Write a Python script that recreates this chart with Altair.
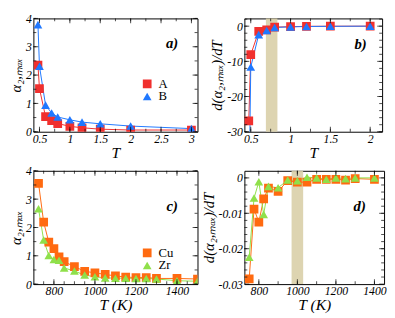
import altair as alt
import pandas as pd

# ---------------- data ----------------
T_ab = [0.475, 0.5, 0.6, 0.7, 0.8, 1.0, 1.2, 1.5, 2.0, 3.0]
alpha_A = [2.35, 1.52, 0.53, 0.39, 0.29, 0.19, 0.14, 0.09, 0.06, 0.06]
alpha_B = [3.78, 2.31, 0.94, 0.66, 0.52, 0.42, 0.34, 0.28, 0.20, 0.11]

T_b = [0.475, 0.5, 0.6, 0.7, 0.8, 1.0, 1.2, 1.5, 2.0]
dalpha_A = [-26.9, -8.1, -1.5, -1.06, -0.27, -0.15, -0.05, -0.02, 0.0]
dalpha_B = [-55.0, -11.6, -2.4, -1.24, -0.37, -0.2, -0.1, -0.05, 0.0]

T_c = [725, 750, 775, 800, 825, 850, 900, 950, 1000, 1050, 1100, 1150, 1200, 1250, 1300, 1400, 1500]
alpha_Cu = [3.56, 2.19, 1.48, 1.25, 0.96, 0.79, 0.62, 0.45, 0.40, 0.34, 0.29, 0.25, 0.23, 0.23, 0.20, 0.20, 0.18]
alpha_Zr = [2.66, 1.56, 1.01, 0.87, 0.84, 0.57, 0.46, 0.32, 0.26, 0.22, 0.21, 0.21, 0.20, 0.20, 0.18, 0.12, 0.10]

T_d = [750, 775, 800, 825, 850, 900, 950, 1000, 1050, 1100, 1150, 1200, 1250, 1300, 1400]
dalpha_Cu = [-0.0285, -0.0088, -0.0125, -0.0059, -0.0029, -0.0038, -0.0008, -0.0012, -0.0012,
             -0.0004, -0.0004, -0.0004, -0.0006, -0.0002, -0.0004]
dalpha_Zr = [-0.0224, -0.0057, -0.0011, -0.0103, -0.0024, -0.0028, -0.0006, -0.0008, 0.0002,
             0.0, -0.0004, 0.0, -0.0002, 0.0, 0.0]

shade_b = [0.69, 0.835]
shade_d = [970, 1030]

names_ab = ["A", "B"]
names_cd = ["Cu", "Zr"]
colors_ab = ["#f0302e", "#1f78ff"]
colors_cd = ["#ff6a10", "#8fe04a"]
shapes = ["square", "triangle-up"]
SHADE = "#d9cfa8"

FONT = "Liberation Serif"


def frame(T, series, names):
    rows = []
    for name, vals in zip(names, series):
        for t, v in zip(T, vals):
            rows.append({"T": t, "v": v, "s": name})
    return pd.DataFrame(rows)


def panel(df, names, colors, xdom, ydom, xmaj, xmin, ymaj, ymin, w, h,
          xtitle, ytitle, tag, tagpos, shade=None, legpos=None):
    xs = alt.Scale(domain=xdom, nice=False, zero=False)
    ys = alt.Scale(domain=ydom, nice=False, zero=False)
    csc = alt.Scale(domain=names, range=colors)
    ssc = alt.Scale(domain=names, range=shapes)
    base = alt.Chart(df)
    layers = []
    if shade is not None:
        sdf = pd.DataFrame({"x0": [shade[0]], "x1": [shade[1]]})
        layers.append(
            alt.Chart(sdf).mark_rect(color=SHADE, opacity=0.9).encode(
                x=alt.X("x0:Q", scale=xs, axis=None), x2="x1:Q",
                y=alt.value(0), y2=alt.value(h)))
    lab = dict(ticks=False, domain=False, labelExpr="'' + datum.value",
               labelFont=FONT, labelFontSize=12, labelFontStyle="italic",
               labelColor="black", labelPadding=2, titleFont=FONT,
               titleFontStyle="italic", titleFontWeight="normal", titleColor="black",
               grid=False)
    ax_x = alt.Axis(orient="bottom", values=xmaj, title=xtitle, titleFontSize=16,
                    titlePadding=0, **lab)
    ax_y = alt.Axis(orient="left", values=ymaj, title=ytitle, titleFontSize=15,
                    titlePadding=2, **lab)
    if legpos is not None:
        def leg():
            return alt.Legend(orient="none", legendX=legpos[0], legendY=legpos[1], title=None,
                              labelFont=FONT, labelFontSize=13, labelColor="black",
                              symbolSize=80, padding=0, rowPadding=0, labelOffset=5,
                              symbolStrokeWidth=0, clipHeight=12)
        lc = alt.Stroke("s:N", scale=csc, legend=leg())
        pc = alt.Color("s:N", scale=csc, legend=leg())
        ps = alt.Shape("s:N", scale=ssc, legend=leg())
    else:
        lc = alt.Stroke("s:N", scale=csc, legend=None)
        pc = alt.Color("s:N", scale=csc, legend=None)
        ps = alt.Shape("s:N", scale=ssc, legend=None)
    layers.append(base.mark_line(strokeWidth=1, clip=True).encode(
        x=alt.X("T:Q", scale=xs, axis=ax_x),
        y=alt.Y("v:Q", scale=ys, axis=ax_y),
        stroke=lc))
    layers.append(base.mark_point(filled=True, size=80, opacity=1, clip=True).encode(
        x=alt.X("T:Q", scale=xs, axis=None),
        y=alt.Y("v:Q", scale=ys, axis=None),
        color=pc, shape=ps))
    # inward ticks on all four sides
    for vals, sz in [(xmaj, 5), (xmin, 3)]:
        tdf = pd.DataFrame({"t": vals})
        for ypos in (h - sz / 2, sz / 2):
            layers.append(alt.Chart(tdf).mark_tick(color="black", thickness=1, size=sz).encode(
                x=alt.X("t:Q", scale=xs, axis=None), y=alt.value(ypos)))
    for vals, sz in [(ymaj, 5), (ymin, 3)]:
        tdf = pd.DataFrame({"t": vals})
        for xpos in (sz / 2, w - sz / 2):
            layers.append(alt.Chart(tdf).mark_tick(color="black", thickness=1, size=sz).encode(
                y=alt.Y("t:Q", scale=ys, axis=None), x=alt.value(xpos)))
    tdf = pd.DataFrame({"tag": [tag]})
    layers.append(alt.Chart(tdf).mark_text(font=FONT, fontSize=15, fontWeight="bold",
                                           fontStyle="italic", color="black",
                                           align="center", baseline="middle").encode(
        x=alt.value(tagpos[0]), y=alt.value(tagpos[1]), text="tag:N"))
    return alt.layer(*layers).resolve_axis(x="independent", y="independent").properties(
        width=w, height=h)


def rng(a, b, step):
    out = []
    k = 0
    while True:
        v = round(a + k * step, 6)
        if v > b + 1e-9:
            break
        out.append(v)
        k += 1
    return out


H = 116
WA, WB, WD = 168, 141, 143

pa = panel(frame(T_ab, [alpha_A, alpha_B], names_ab), names_ab, colors_ab,
           [0.4, 3.1], [0, 4], rng(0.5, 3, 0.5), rng(0.5, 3, 0.25), rng(0, 4, 1), rng(0, 4, 0.5),
           WA, H, "T", "α₂,ₘₐₓ", "a)", (142, 25), legpos=(110, 61))

pb = panel(frame(T_b, [dalpha_A, dalpha_B], names_ab), names_ab, colors_ab,
           [0.42, 2.15], [-30, 2.2], rng(0.5, 2, 0.5), rng(0.5, 2, 0.25), rng(-30, 0, 10), rng(-30, 2, 2),
           WB, H, "T", "d(α₂,ₘₐₓ)/dT", "b)", (119, 26), shade=shade_b)

pc = panel(frame(T_c, [alpha_Cu, alpha_Zr], names_cd), names_cd, colors_cd,
           [700, 1500], [0, 4], rng(800, 1400, 200), rng(750, 1450, 50), rng(0, 4, 1), rng(0, 4, 0.5),
           WA, H, "T (K)", "α₂,ₘₐₓ", "c)", (142, 36), legpos=(110, 78))

pd_ = panel(frame(T_d, [dalpha_Cu, dalpha_Zr], names_cd), names_cd, colors_cd,
            [725, 1450], [-0.03, 0.002], rng(800, 1400, 200), rng(800, 1400, 100),
            [-0.03, -0.02, -0.01, 0], rng(-0.028, 0.0, 0.002),
            WD, H, "T (K)", "d(α₂,ₘₐₓ)/dT", "d)", (118, 36), shade=shade_d)

chart = alt.concat(pa, pb, pc, pd_, columns=2, spacing={"row": 40, "column": 48},
                   bounds="flush").resolve_scale(
    color="independent", shape="independent", stroke="independent").resolve_legend(
    color="independent", shape="independent", stroke="independent").properties(
    padding=0).configure_view(stroke="black", strokeWidth=1).configure_axis(grid=False)

chart.save("out.html", embed_options={"renderer": "svg", "actions": False})
